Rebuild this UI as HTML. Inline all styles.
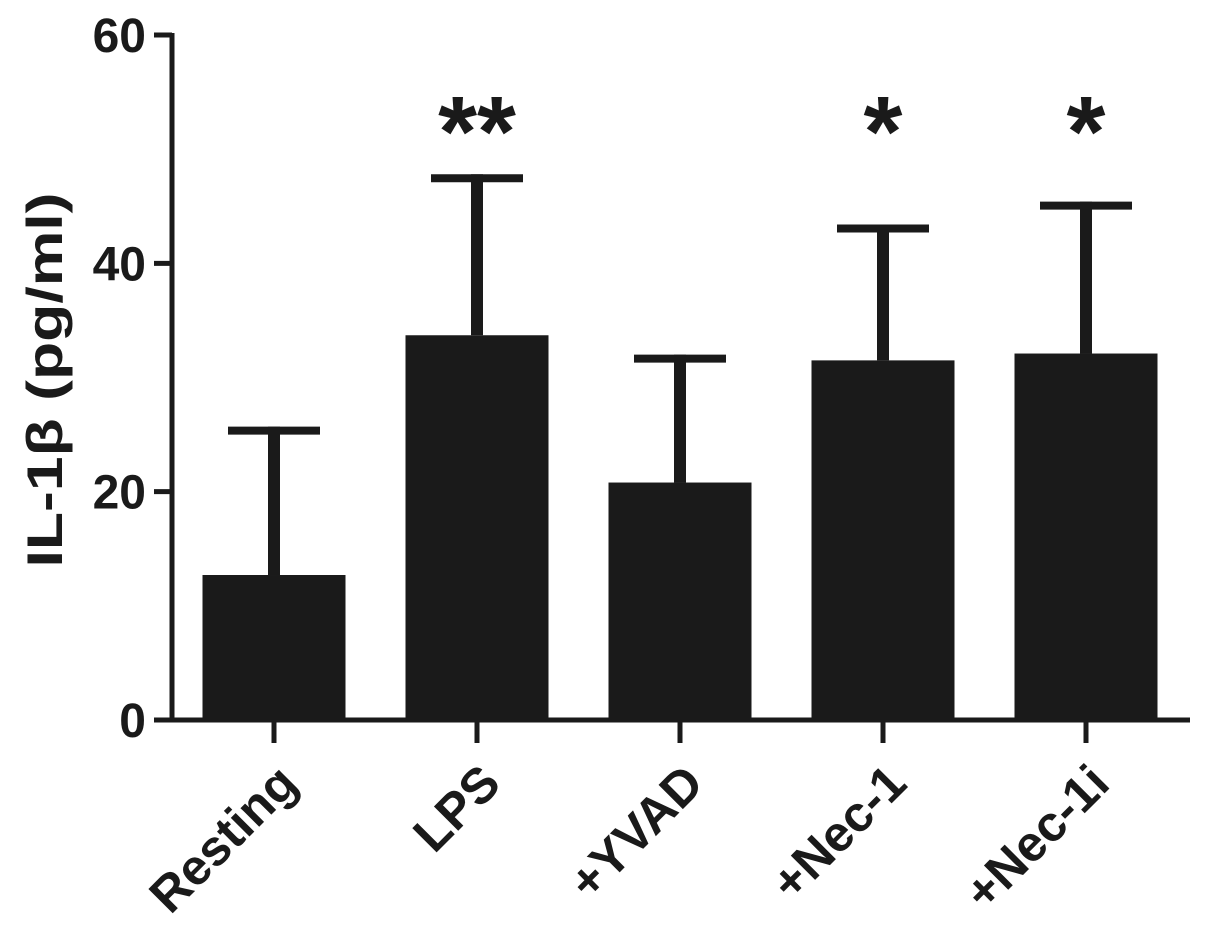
<!DOCTYPE html>
<html><head><meta charset="utf-8"><style>
body{margin:0;background:#fff}
text{font-family:"Liberation Sans",Arial,sans-serif;font-weight:bold;fill:#1a1a1a}
</style></head><body>
<svg id="chart" width="1205" height="940" xmlns="http://www.w3.org/2000/svg"></svg>
<script>
const categories=["Resting","LPS","+YVAD","+Nec-1","+Nec-1i"];
const means=[12.7,33.7,20.8,31.5,32.1];
const errors=[13.0,14.1,11.2,11.9,13.3];
const stars=["","**","","*","*"];
const yTicks=[0,20,40,60];
const svg=document.getElementById('chart');
const NS="http://www.w3.org/2000/svg";
const y0=720,yTop=35,yMax=60;
const y=v=>y0-(v/yMax)*(y0-yTop);
const x0=172,step=203,firstC=274,barW=143;
const xc=i=>firstC+i*step;
function el(t,a,p){const e=document.createElementNS(NS,t);for(const k in a)e.setAttribute(k,a[k]);(p||svg).appendChild(e);return e;}
const c="#1a1a1a";
categories.forEach((cat,i)=>{
 const cx=xc(i),top=y(means[i]),et=y(means[i]+errors[i]);
 const eb=el('line',{x1:cx,x2:cx,y1:top,y2:et,stroke:c,'stroke-width':12});
 
 
 const cap=el('line',{x1:cx-46,x2:cx+46,y1:et+4,y2:et+4,stroke:c,'stroke-width':8});
 
 
 const b=el('rect',{x:cx-barW/2,y:top,width:barW,height:y0-top,fill:c});
 
 
 const tk=el('line',{x1:cx,x2:cx,y1:y0,y2:y0+23,stroke:c,'stroke-width':5});
 
 
 const ax=cx+26,ay=y0+66;
 const lb=el('text',{x:ax,y:ay,'font-size':50,'text-anchor':'end',transform:`rotate(-45 ${ax} ${ay})`});
 lb.textContent=cat;
 
 
 if(stars[i]){const s=el('text',{x:cx,y:166,'font-size':100,'text-anchor':'middle','font-weight':'normal'});
 s.textContent=stars[i];
 
 }
});
yTicks.forEach(v=>{
 const t=el('line',{x1:154,x2:x0,y1:y(v),y2:y(v),stroke:c,'stroke-width':5});
 
 
 const l=el('text',{x:146,y:y(v)+17,'font-size':48,'text-anchor':'end'});
 l.textContent=v;
 
 
});
const ya=el('line',{x1:x0,x2:x0,y1:y(60)-2,y2:y0+2,stroke:c,'stroke-width':5});


const xa=el('line',{x1:x0-2,x2:1190,y1:y0,y2:y0,stroke:c,'stroke-width':5});


const yt=el('text',{x:62,y:380,'font-size':50,'text-anchor':'middle',textLength:375,lengthAdjust:'spacingAndGlyphs',transform:'rotate(-90 62 380)'});
yt.textContent="IL-1β  (pg/ml)";


</script>
</body></html>
